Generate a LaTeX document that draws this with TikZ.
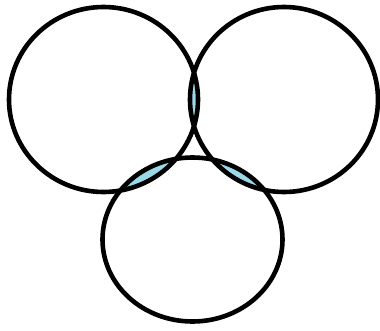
\documentclass[tikz,border=0pt]{standalone}
\usepackage{tikz}
\definecolor{LensBlue}{RGB}{155,216,232}

\begin{document}
\begin{tikzpicture}[
  ring/.style={
    draw=black, line width=4.6pt},
  lens/.style={
    fill=LensBlue}
]

\useasboundingbox (0,0) rectangle (380pt,330pt);

\coordinate (cl) at (103.5pt,230.5pt);
\coordinate (cr) at (284pt,230.5pt);
\coordinate (cb) at (192.5pt,90.5pt);

% overlaps
\begin{scope}
  \clip (cl) ellipse [x radius=94.5pt, y radius=92.5pt];
  \fill[lens] (cr) ellipse [x radius=94pt, y radius=92.5pt];
\end{scope}
\begin{scope}
  \clip (cl) ellipse [x radius=94.5pt, y radius=92.5pt];
  \fill[lens] (cb) ellipse [x radius=90pt, y radius=82pt];
\end{scope}
\begin{scope}
  \clip (cr) ellipse [x radius=94pt, y radius=92.5pt];
  \fill[lens] (cb) ellipse [x radius=90pt, y radius=82pt];
\end{scope}

% outlines
\draw[ring] (cl) ellipse [x radius=94.5pt, y radius=92.5pt];
\draw[ring] (cr) ellipse [x radius=94pt, y radius=92.5pt];
\draw[ring] (cb) ellipse [x radius=90pt, y radius=82pt];

\end{tikzpicture}
\end{document}
